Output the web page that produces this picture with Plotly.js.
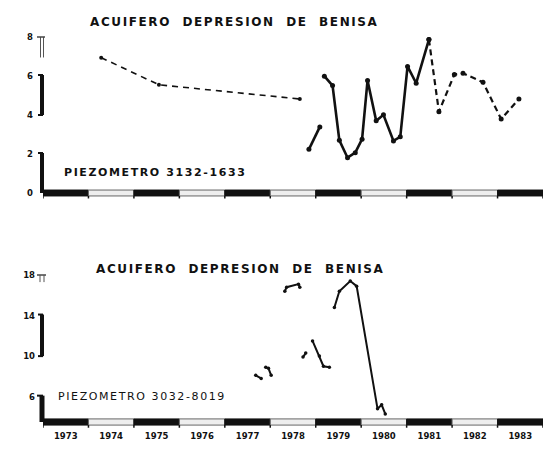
<!DOCTYPE html>
<html>
<head>
<meta charset="utf-8">
<script src="https://cdn.plot.ly/plotly-3.0.1.min.js"></script>
<style>
  html, body { margin: 0; padding: 0; background: #fff; }
  #chart { width: 556px; height: 450px; }
  .annotation-text { letter-spacing: 1.6px; }
</style>
</head>
<body>
<div id="chart"></div>
<script>
// ---------- data ----------
const years = [1973, 1974, 1975, 1976, 1977, 1978, 1979, 1980, 1981, 1982, 1983];
const yearLabels = ['1973', '1974', '1975', '1976', '1977', '1978', '1979', '1980', '1981', '1982', '1983'];

const topTicks = [0, 2, 4, 6, 8];
const bottomTicks = [6, 10, 14, 18];

// Piezometro 3132-1633 (top panel)
const topDashEarlyX = [1974.28, 1975.55, 1978.65];
const topDashEarlyY = [6.94, 5.55, 4.82];
const topSolidX = [1978.85, 1979.09, null, 1979.19, 1979.37, 1979.52, 1979.70, 1979.87, 1980.02, 1980.14, 1980.33, 1980.49, 1980.71, 1980.86, 1981.02, 1981.21, 1981.49];
const topSolidY = [2.24, 3.39, null, 5.99, 5.51, 2.70, 1.81, 2.07, 2.76, 5.77, 3.70, 4.01, 2.67, 2.88, 6.49, 5.63, 7.87];
const topDashLateX = [1981.49, 1981.71, 1982.05, 1982.24, 1982.68, 1983.08, 1983.47];
const topDashLateY = [7.87, 4.17, 6.08, 6.14, 5.68, 3.79, 4.82];

// Piezometro 3032-8019 (bottom panel)
const bottomX = [1977.68, 1977.80, null, 1977.90, 1977.96, 1978.02, null, 1978.32, 1978.36, 1978.62, 1978.65, null, 1978.72, 1978.78, null, 1978.93, 1979.08, 1979.17, 1979.30, null, 1979.41, 1979.52, 1979.76, 1979.90, 1980.36, 1980.45, 1980.53];
const bottomY = [8.1, 7.8, null, 8.9, 8.8, 8.1, null, 16.4, 16.8, 17.1, 16.8, null, 9.9, 10.3, null, 11.5, 10.0, 9.0, 8.9, null, 14.8, 16.4, 17.4, 16.9, 4.8, 5.2, 4.3];

const titleText = 'ACUIFERO  DEPRESION  DE  BENISA';
const topLabel = 'PIEZOMETRO 3132-1633';
const bottomLabel = 'PIEZOMETRO 3032-8019';

// ---------- layout helpers ----------
const INK = '#111';
const topRange = [0, 8];
const botRange = [3.5, 18];
const fTop = v => (v - topRange[0]) / (topRange[1] - topRange[0]);
const fBot = v => (v - botRange[0]) / (botRange[1] - botRange[0]);

const shapes = [];
// alternating year bars + boundary ticks
function yearBar(xref, yref, half, tickLen) {
  years.forEach((yr, i) => {
    shapes.push({
      type: 'rect', xref: xref, yref: yref,
      x0: yr, x1: yr + 1, y0: -half, y1: half,
      fillcolor: i % 2 === 0 ? INK : '#eeeeee',
      line: { color: i % 2 === 0 ? INK : '#666', width: 1 }
    });
  });
  years.concat([years[years.length - 1] + 1]).forEach(b => {
    shapes.push({
      type: 'line', xref: xref, yref: yref,
      x0: b, x1: b, y0: -half, y1: -half - tickLen,
      line: { color: INK, width: 1.5 }
    });
  });
}
yearBar('x', 'y domain', 0.019, 0.016);
yearBar('x2', 'y2 domain', 0.021, 0.018);

function vseg(xref, yref, x, y0, y1, w, c) {
  shapes.push({ type: 'line', xref: xref, yref: yref, x0: x, x1: x, y0: y0, y1: y1, line: { color: c || INK, width: w } });
}
function hseg(xref, yref, x0, x1, y, w, c) {
  shapes.push({ type: 'line', xref: xref, yref: yref, x0: x0, x1: x1, y0: y, y1: y, line: { color: c || INK, width: w } });
}
// top broken y axis
vseg('x domain', 'y domain', -0.005, fTop(8), fTop(6.95), 1, '#555');
vseg('x domain', 'y domain', 0.001, fTop(8), fTop(6.95), 1, '#555');
hseg('x domain', 'y domain', -0.012, 0.004, fTop(8), 1.5, '#444');
vseg('x domain', 'y domain', -0.002, fTop(4), fTop(6.05), 4);
hseg('x domain', 'y domain', -0.01, 0, fTop(6.05), 2);
hseg('x domain', 'y domain', -0.01, 0, fTop(4), 2);
vseg('x domain', 'y domain', -0.002, fTop(0), fTop(2.05), 4);
hseg('x domain', 'y domain', -0.01, 0, fTop(2.05), 2);
// bottom broken y axis
hseg('x2 domain', 'y2 domain', -0.012, 0.006, fBot(18), 1.5, '#444');
vseg('x2 domain', 'y2 domain', -0.006, fBot(18), fBot(17.3), 1, '#555');
vseg('x2 domain', 'y2 domain', 0.002, fBot(18), fBot(17.3), 1, '#555');
vseg('x2 domain', 'y2 domain', -0.002, fBot(10), fBot(14.1), 4);
hseg('x2 domain', 'y2 domain', -0.01, 0, fBot(14.1), 2);
hseg('x2 domain', 'y2 domain', -0.01, 0, fBot(10), 2);
vseg('x2 domain', 'y2 domain', -0.002, 0, fBot(6.1), 5);
hseg('x2 domain', 'y2 domain', -0.012, 0, fBot(6.1), 2);

const tickFont = { family: 'DejaVu Sans', size: 8.5, color: INK, weight: 'bold' };

const traces = [
  { x: topDashEarlyX, y: topDashEarlyY, xaxis: 'x', yaxis: 'y', mode: 'lines+markers',
    line: { color: INK, width: 1.6, dash: '6px,5px' }, marker: { color: INK, size: 4 } },
  { x: topSolidX, y: topSolidY, xaxis: 'x', yaxis: 'y', mode: 'lines+markers',
    line: { color: INK, width: 2.6 }, marker: { color: INK, size: 5 } },
  { x: topDashLateX, y: topDashLateY, xaxis: 'x', yaxis: 'y', mode: 'lines+markers',
    line: { color: INK, width: 2.2, dash: '6px,4px' }, marker: { color: INK, size: 5 } },
  { x: bottomX, y: bottomY, xaxis: 'x2', yaxis: 'y2', mode: 'lines+markers',
    line: { color: INK, width: 2 }, marker: { color: INK, size: 3.5 } }
];

const axBase = { showgrid: false, zeroline: false, showline: false, ticks: '', fixedrange: true };

const layout = {
  width: 556, height: 450,
  margin: { l: 43, r: 13, t: 37, b: 28 },
  paper_bgcolor: '#fff', plot_bgcolor: 'rgba(0,0,0,0)',
  showlegend: false,
  xaxis: Object.assign({}, axBase, { domain: [0, 1], range: [1973, 1984], anchor: 'y', showticklabels: false }),
  yaxis: Object.assign({}, axBase, { domain: [0.5948, 1], range: topRange, anchor: 'x',
    tickmode: 'array', tickvals: topTicks, ticktext: topTicks.map(String), tickfont: tickFont, ticklabelstandoff: 9 }),
  xaxis2: Object.assign({}, axBase, { domain: [0, 1], range: [1973, 1984], anchor: 'y2',
    tickmode: 'array', tickvals: years.map(y => y + 0.5), ticktext: yearLabels, tickfont: tickFont, ticklabelstandoff: 7 }),
  yaxis2: Object.assign({}, axBase, { domain: [0, 0.3818], range: botRange, anchor: 'x2',
    tickmode: 'array', tickvals: bottomTicks, ticktext: bottomTicks.map(String), tickfont: tickFont, ticklabelstandoff: 7 }),
  shapes: shapes,
  annotations: [
    { text: titleText, xref: 'paper', yref: 'paper', x: 0.382, y: 1.04, xanchor: 'center', yanchor: 'middle',
      showarrow: false, font: { family: 'DejaVu Sans', size: 12, color: INK, weight: 'bold' } },
    { text: topLabel, xref: 'paper', yref: 'paper', x: 0.038, y: 0.649, xanchor: 'left', yanchor: 'middle',
      showarrow: false, font: { family: 'DejaVu Sans', size: 11, color: INK, weight: 'bold' } },
    { text: titleText, xref: 'paper', yref: 'paper', x: 0.394, y: 0.398, xanchor: 'center', yanchor: 'middle',
      showarrow: false, font: { family: 'DejaVu Sans', size: 12, color: INK, weight: 'bold' } },
    { text: bottomLabel, xref: 'paper', yref: 'paper', x: 0.026, y: 0.065, xanchor: 'left', yanchor: 'middle',
      showarrow: false, font: { family: 'DejaVu Sans', size: 11, color: INK } }
  ]
};

Plotly.newPlot('chart', traces, layout, { displayModeBar: false, staticPlot: true });
</script>
</body>
</html>
